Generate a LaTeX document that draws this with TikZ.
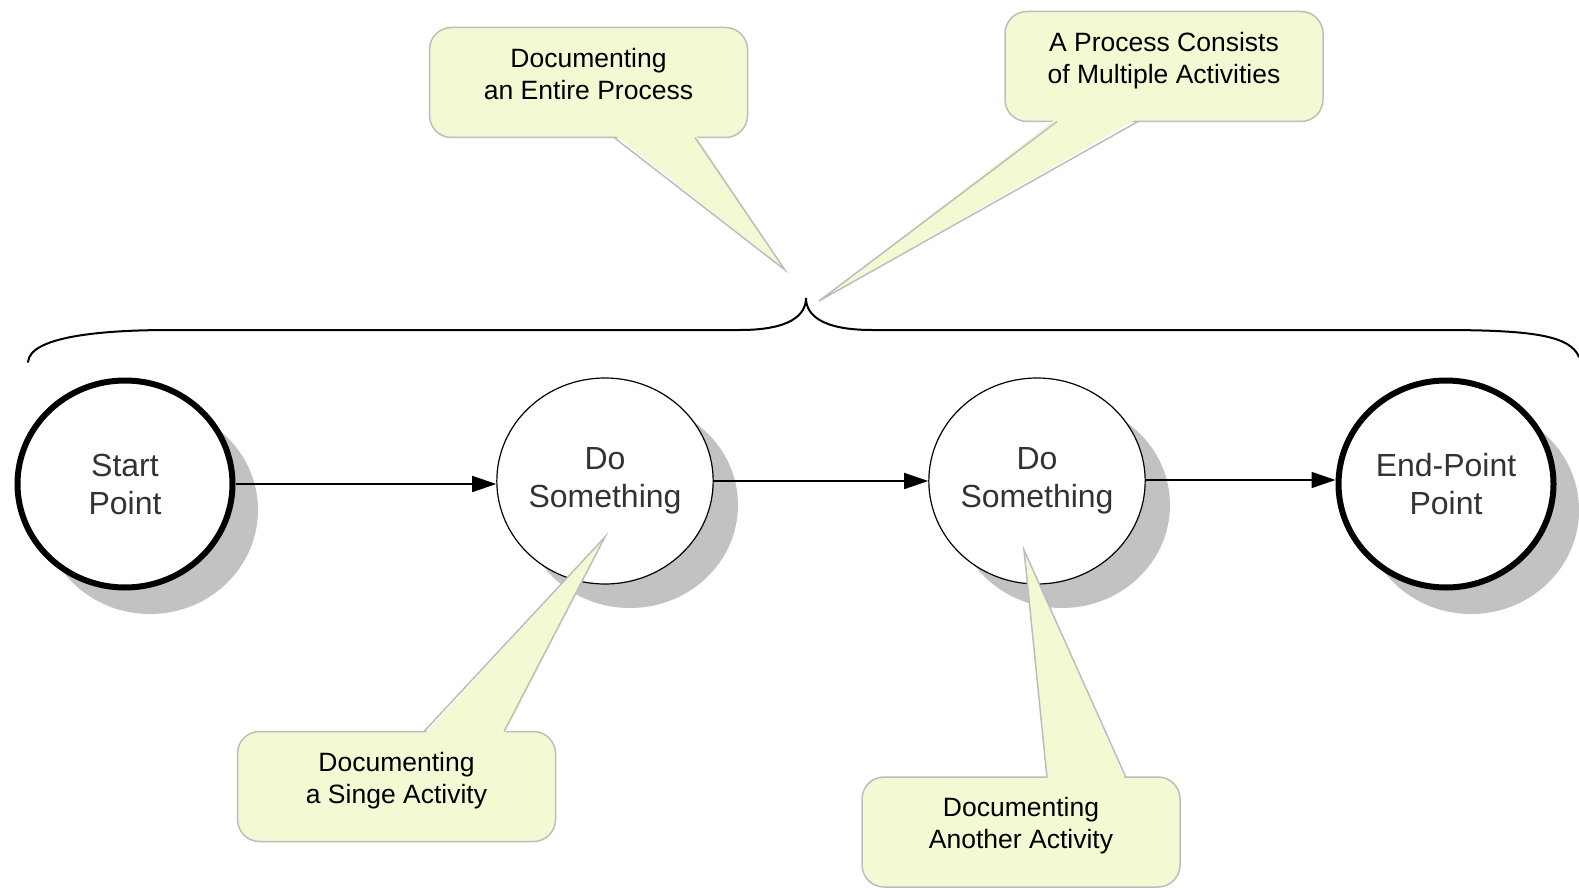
\documentclass[tikz,border=0pt]{standalone}
\usepackage{fontspec}
\setmainfont{Liberation Sans}
\usetikzlibrary{arrows.meta,shapes.geometric,calc}
\definecolor{callfill}{HTML}{F4F9D3}
\definecolor{callborder}{HTML}{BDBDBD}
\definecolor{shadowgrey}{HTML}{C2C2C2}
\definecolor{circtext}{HTML}{333333}
\tikzset{
  statebox/.style={ellipse, draw=black, fill=white, minimum width=214pt, minimum height=206pt,
    inner sep=0pt, align=center, text=circtext, font=\fontsize{32}{38}\selectfont},
  endbox/.style={statebox, line width=6pt, minimum width=215pt, minimum height=207pt},
  actbox/.style={statebox, line width=1.2pt},
  callbox/.style={draw=callborder, fill=callfill, line width=1.5pt, rounded corners=22pt,
    minimum width=318pt, minimum height=110pt, align=center, text=black,
    font=\fontsize{26.5}{32}\selectfont, inner sep=0pt},
  ptrfill/.style={fill=callfill, draw=none},
  ptredge/.style={draw=callborder, line width=1.5pt},
  arr/.style={line width=1.5pt, -{Triangle[length=24pt,width=16pt]}},
  brace/.style={line width=2pt, line cap=round},
}
\begin{document}
\begin{tikzpicture}[x=1pt,y=-1pt]
\useasboundingbox (0,0) rectangle (1579,888);
\fill[white] (0,0) rectangle (1579,888);

% shadows
\foreach \cx/\cy/\rx/\ry in {150/510/108/104, 630/505/108/103, 1062/505/108/103, 1471/510/108/104}{
  \fill[shadowgrey] (\cx,\cy) ellipse [x radius=\rx, y radius=\ry];
}

% nodes
\node[endbox] (start) at (125,484) {Start\\Point};
\node[actbox] (ds1) at (605,481) {Do\\Something};
\node[actbox] (ds2) at (1037,481) {Do\\Something};
\node[endbox] (stop) at (1446,484) {End-Point\\Point};

% arrows
\draw[arr] (start.east) -- (ds1.west |- start.east);
\draw[arr] (ds1.east) -- (ds2.west);
\draw[arr] (ds2.east |- 0,480) -- (stop.west |- 0,480);

% brace
\coordinate (bl) at (28,362);
\coordinate (btip) at (806,298);
\coordinate (br) at (1579,357);
\draw[brace] (bl) .. controls (30,335) and (110,330) .. (170,330)
  -- (740,330) .. controls (790,330) and (806,315) .. (btip)
  .. controls (806,315) and (822,330) .. (872,330)
  -- (1440,330) .. controls (1530,330) and (1570,335) .. (br);

% callouts
\node[callbox] (c1) at (588.5,82.5) {Documenting\\an Entire Process\\[-14pt]\mbox{}};
\node[callbox] (c2) at (1164,66.5) {A Process Consists\\of Multiple Activities\\[-14pt]\mbox{}};
\node[callbox] (c3) at (396.5,786.5) {Documenting\\a Singe Activity\\[-14pt]\mbox{}};
\node[callbox] (c4) at (1021,832) {Documenting\\Another Activity\\[-14pt]\mbox{}};

% pointers: callout 1 (bottom -> down right)
\coordinate (t1) at (785,270);
\fill[ptrfill] (614,134) -- (t1) -- (695,134) -- cycle;
\draw[ptredge] (614,137.5) -- (t1) -- (695,137.5);
% callout 2 (bottom -> down left)
\coordinate (t2) at (819,301);
\fill[ptrfill] (1057,118) -- (t2) -- (1138,118) -- cycle;
\draw[ptredge] (1057,121.5) -- (t2) -- (1138,121.5);
% callout 3 (top -> up right)
\coordinate (t3) at (605,537);
\fill[ptrfill] (424,735) -- (t3) -- (504,735) -- cycle;
\draw[ptredge] (424,731.5) -- (t3) -- (504,731.5);
% callout 4 (top -> up)
\coordinate (t4) at (1024,550);
\fill[ptrfill] (1047,781) -- (t4) -- (1126,781) -- cycle;
\draw[ptredge] (1047,777.5) -- (t4) -- (1126,777.5);
\end{tikzpicture}
\end{document}
